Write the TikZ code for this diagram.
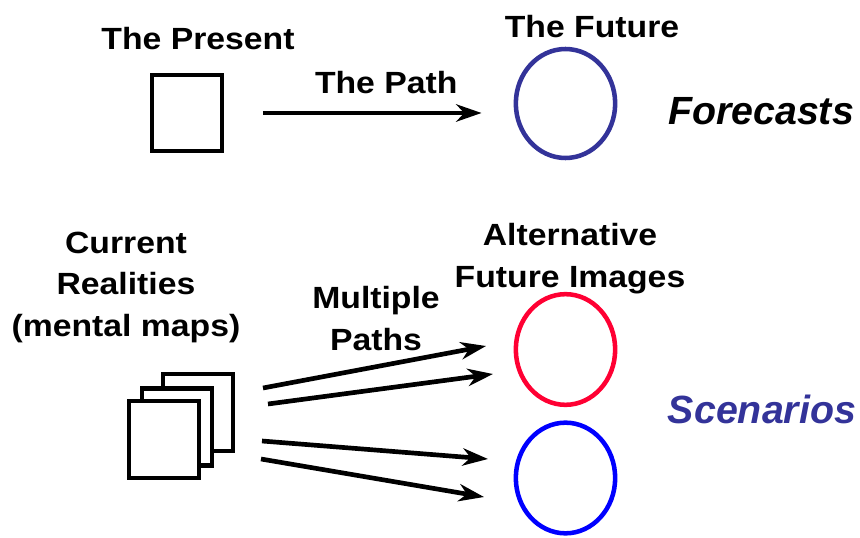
\documentclass[tikz,border=0pt]{standalone}
\usepackage{fontspec}
\setmainfont{Liberation Sans}
\newfontfamily\capfont{Liberation Sans}[FakeStretch=1.1]
\usetikzlibrary{arrows.meta,shapes.geometric,positioning}
\definecolor{navyblue}{RGB}{51,51,153}
\definecolor{imgred}{RGB}{255,0,51}
\definecolor{imgblue}{RGB}{0,0,255}
\tikzset{
    caption/.style = {font=\capfont\bfseries\fontsize{23}{31}\selectfont,
        align=center, inner sep=0pt, anchor=base},
    mode/.style = {font=\bfseries\itshape\fontsize{29.5}{34}\selectfont,
        inner sep=0pt, anchor=base},
    sheet/.style = {draw, rectangle, fill=white, line width=3.3pt,
        minimum width=52.5pt, minimum height=57.75pt, inner sep=0pt},
    image/.style = {draw, ellipse, line width=3.4pt,
        minimum width=74.5pt, minimum height=83pt, inner sep=0pt},
    arrow/.style = {draw, line width=3.5pt,
        -{Stealth[length=19pt, width=13pt, inset=6pt]}}
}

\begin{document}
\begin{tikzpicture}[x=0.75pt, y=-0.75pt]
    \useasboundingbox (0,0) rectangle (860,538);
    % forecasts
    \node [sheet, minimum height=57pt] (present) at (187,113) {};
    \node [caption] (presenttxt) at (198,50) {The Present};
    \node [image, draw=navyblue, minimum height=81.75pt] (future) at (565.5,103.5) {};
    \node [caption] (futuretxt) at (592,38) {The Future};
    \draw [arrow, shorten <=29pt, shorten >=24pt] (present.east) -- (present.east -| future.west)
        node [caption, pos=0.56, yshift=14.5pt] (pathtxt) {The Path};
    \node [mode] (forecasts) at (761,125) {Forecasts};
    % scenarios
    \node [sheet] (back) at (198,412.5) {};
    \node [sheet] (middle) at (177,427) {};
    \node [sheet] (front) at (164,439.5) {};
    \node [caption] (realtxt) at (126,336) {Current\\Realities\\(mental maps)};
    \node [image, draw=imgred] (redimg) at (565.5,349.5) {};
    \node [image, draw=imgblue] (blueimg) at (565.5,478) {};
    \node [caption] (alttxt) at (570,287) {Alternative\\Future Images};
    \node [caption] (multtxt) at (376,350) {Multiple\\Paths};
    \node [mode, text=navyblue] (scenarios) at (762,423) {Scenarios};
    \coordinate (p1) at (263,388);
    \coordinate (p2) at (268,404);
    \coordinate (p3) at (262,441);
    \coordinate (p4) at (261,459);
    \coordinate (q1) at (486,346);
    \coordinate (q2) at (493,374);
    \coordinate (q3) at (488,459);
    \coordinate (q4) at (484,497);
    \draw [arrow] (p1) -- (q1);
    \draw [arrow] (p2) -- (q2);
    \draw [arrow] (p3) -- (q3);
    \draw [arrow] (p4) -- (q4);
\end{tikzpicture}
\end{document}
